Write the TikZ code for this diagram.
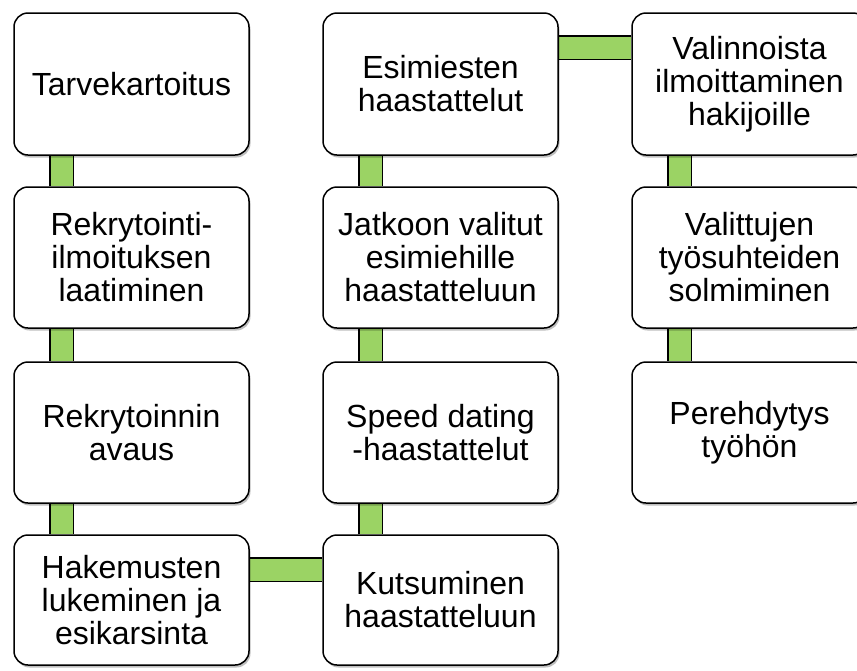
\documentclass[tikz,border=0pt]{standalone}
\usepackage{fontspec}
\setmainfont{Liberation Sans}
\usetikzlibrary{shadows,backgrounds}
\definecolor{bargreen}{RGB}{155,211,100}
\begin{document}
\begin{tikzpicture}[x=1pt, y=-1pt,
    stepbox/.style={draw, line width=1.5pt, rounded corners=14pt, fill=white,
      minimum width=235pt, align=center, inner sep=0pt,
      font=\fontsize{32}{33}\selectfont,
      drop shadow={shadow xshift=1.5pt, shadow yshift=-2.5pt, opacity=0.25, fill=black}},
    bar/.style={draw=black, line width=1.5pt, double=bargreen, double distance=22pt}]
    \path[use as bounding box, clip] (0,0) rectangle (857,670);

    % Nodes
    \node[stepbox, minimum height=142pt] (tarve) at (131.5,84) {Tarvekartoitus};
    \node[stepbox, minimum height=141pt] (ilmoitus) at (131.5,257.5) {Rekrytointi-\\ilmoituksen\\laatiminen};
    \node[stepbox, minimum height=141pt] (avaus) at (131.5,432.5) {Rekrytoinnin\\avaus};
    \node[stepbox, minimum height=130pt] (hakemus) at (131.5,600) {Hakemusten\\lukeminen ja\\esikarsinta};
    \node[stepbox, minimum height=130pt] (kutsu) at (440.5,600) {Kutsuminen\\haastatteluun};
    \node[stepbox, minimum height=141pt] (speed) at (440.5,432.5) {Speed dating\\-haastattelut};
    \node[stepbox, minimum height=141pt] (jatko) at (440.5,257.5) {Jatkoon valitut\\esimiehille\\haastatteluun};
    \node[stepbox, minimum height=142pt] (esimies) at (440.5,84) {Esimiesten\\haastattelut};
    \node[stepbox, minimum height=142pt] (valinta) at (749.5,84) {Valinnoista\\ilmoittaminen\\hakijoille};
    \node[stepbox, minimum height=141pt] (solmi) at (749.5,257.5) {Valittujen\\työsuhteiden\\solmiminen};
    \node[stepbox, minimum height=141pt] (pere) at (749.5,432.5) {Perehdytys\\työhön};

    % Connections
    \begin{scope}[on background layer]
        \draw[bar] ([xshift=48.5pt]tarve.south west) -- ([xshift=48.5pt]ilmoitus.north west);
        \draw[bar] ([xshift=48.5pt]ilmoitus.south west) -- ([xshift=48.5pt]avaus.north west);
        \draw[bar] ([xshift=48.5pt]avaus.south west) -- ([xshift=48.5pt]hakemus.north west);
        \draw[bar] ([yshift=-35.5pt]hakemus.north east) -- ([yshift=-35.5pt]kutsu.north west);
        \draw[bar] ([xshift=48.5pt]kutsu.north west) -- ([xshift=48.5pt]speed.south west);
        \draw[bar] ([xshift=48.5pt]speed.north west) -- ([xshift=48.5pt]jatko.south west);
        \draw[bar] ([xshift=48.5pt]jatko.north west) -- ([xshift=48.5pt]esimies.south west);
        \draw[bar] ([yshift=-35.5pt]esimies.north east) -- ([yshift=-35.5pt]valinta.north west);
        \draw[bar] ([xshift=48.5pt]valinta.south west) -- ([xshift=48.5pt]solmi.north west);
        \draw[bar] ([xshift=48.5pt]solmi.south west) -- ([xshift=48.5pt]pere.north west);
    \end{scope}
\end{tikzpicture}
\end{document}
